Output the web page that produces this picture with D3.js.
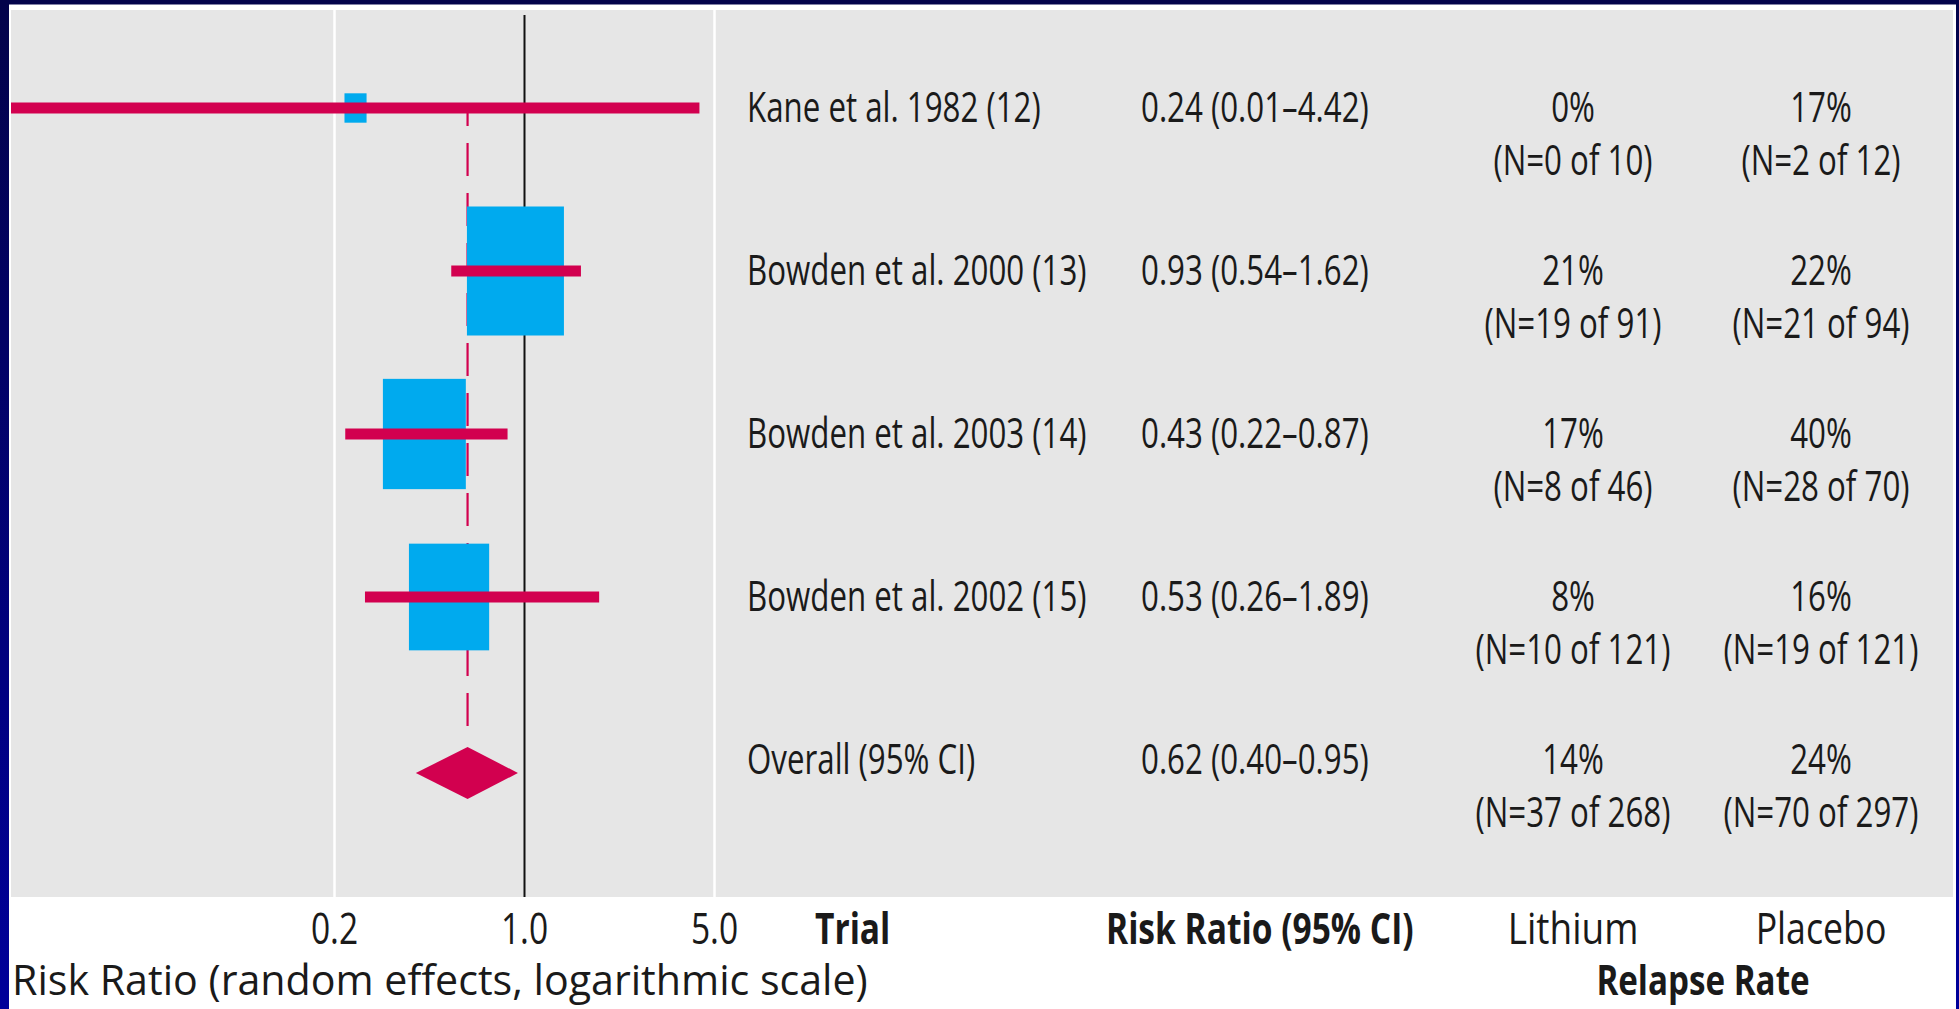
<!DOCTYPE html>
<html>
<head>
<meta charset="utf-8">
<script src="https://cdn.jsdelivr.net/npm/d3@7"></script>
<style>
  html, body { margin: 0; padding: 0; background: #000066; }
  svg { display: block; }
  text { font-family: "Open Sans", "Noto Sans", sans-serif; fill: #1a1a1a; }
</style>
</head>
<body>
<svg id="chart" width="1959" height="1009"></svg>
<script>
// Lithium vs placebo relapse: forest plot of risk ratios (random effects)
const trials       = ["Kane et al. 1982 (12)", "Bowden et al. 2000 (13)", "Bowden et al. 2003 (14)", "Bowden et al. 2002 (15)"];
const riskRatio    = [0.24, 0.93, 0.43, 0.53];
const ciLow        = [0.01, 0.54, 0.22, 0.26];
const ciHigh       = [4.42, 1.62, 0.87, 1.89];
const studyWeight  = [2.1, 40.5, 29.6, 27.7];   // % weight, sets box size
const lithiumEvents = [0, 19, 8, 10];
const lithiumTotal  = [10, 91, 46, 121];
const placeboEvents = [2, 21, 28, 19];
const placeboTotal  = [12, 94, 70, 121];

const overallLabel   = "Overall (95% CI)";
const overallRR      = 0.62;
const overallLow     = 0.40;
const overallHigh    = 0.95;
const overallLithium = [37, 268];
const overallPlacebo = [70, 297];

const tickValues = [0.2, 1, 5];
const columnHeads = ["Trial", "Risk Ratio (95% CI)", "Lithium", "Placebo"];
const groupHead = "Relapse Rate";
const axisTitle = "Risk Ratio (random effects, logarithmic scale)";

// ---- layout ----
const W = 1959, H = 1009;
const panel = { x: 11, y: 10, w: 1942, h: 887 };
const CRIMSON = "#d2004f", BLUE = "#00aaee", GREY = "#e6e6e6";

const svg = d3.select("#chart");
const defs = svg.append("defs");
const grad = defs.append("linearGradient").attr("id", "navy")
  .attr("x1", 0).attr("y1", 0).attr("x2", 0).attr("y2", 1);
grad.append("stop").attr("offset", "0%").attr("stop-color", "#03034a");
grad.append("stop").attr("offset", "100%").attr("stop-color", "#00009a");
defs.append("clipPath").attr("id", "panelClip").append("rect")
  .attr("x", panel.x).attr("y", panel.y).attr("width", panel.w).attr("height", panel.h);

svg.append("rect").attr("width", W).attr("height", H).attr("fill", "url(#navy)");
svg.append("rect").attr("x", 9).attr("y", 4.5).attr("width", 1947).attr("height", H - 4.5).attr("fill", "#ffffff");
svg.append("rect").attr("x", panel.x).attr("y", panel.y).attr("width", panel.w).attr("height", panel.h).attr("fill", GREY);

const x = d3.scaleLog().domain([0.2, 5]).range([334, 714]);
const yRow = d3.scaleLinear().domain([0, 4]).range([108, 760]);
const summaryDrop = 13;
const summaryY = yRow(4) + summaryDrop;
const boxW = d3.scaleSqrt().domain([0, 40.5]).range([0, 97]);
const boxAspect = 1.33;
const diamondHalfH = 26;

const studies = trials.map((t, i) => ({
  i, name: t, rr: riskRatio[i], lo: ciLow[i], hi: ciHigh[i], w: studyWeight[i],
  li: [lithiumEvents[i], lithiumTotal[i]], pl: [placeboEvents[i], placeboTotal[i]]
}));

// ---- vertical guide lines via an axis ----
const grid = svg.append("g").attr("transform", `translate(0,${panel.y})`)
  .call(d3.axisBottom(x).tickValues(tickValues).tickSize(panel.h).tickFormat(""));
grid.select(".domain").remove();
grid.selectAll(".tick line")
  .attr("stroke", d => d === 1 ? "#111" : "#ffffff")
  .attr("stroke-width", d => d === 1 ? 2 : 2.5)
  .attr("y1", d => d === 1 ? 5 : 0);

const plot = svg.append("g").attr("clip-path", "url(#panelClip)");

// dashed line at the pooled estimate
plot.append("line")
  .attr("x1", x(overallRR)).attr("x2", x(overallRR))
  .attr("y1", yRow(0)).attr("y2", summaryY - diamondHalfH - 16)
  .attr("stroke", CRIMSON).attr("stroke-width", 2.2)
  .attr("stroke-dasharray", "33,17").attr("stroke-dashoffset", 15);

// study weight boxes
plot.selectAll("rect.box").data(studies).join("rect").attr("class", "box")
  .attr("x", d => x(d.rr) - boxW(d.w) / 2)
  .attr("y", d => yRow(d.i) - boxW(d.w) * boxAspect / 2)
  .attr("width", d => boxW(d.w))
  .attr("height", d => boxW(d.w) * boxAspect)
  .attr("fill", BLUE);

// confidence intervals
plot.selectAll("line.ci").data(studies).join("line").attr("class", "ci")
  .attr("x1", d => x(d.lo)).attr("x2", d => x(d.hi))
  .attr("y1", d => yRow(d.i)).attr("y2", d => yRow(d.i))
  .attr("stroke", CRIMSON).attr("stroke-width", 11);

// pooled diamond
plot.append("path")
  .attr("d", d3.line()([
    [x(overallLow), summaryY], [x(overallRR), summaryY - diamondHalfH],
    [x(overallHigh), summaryY], [x(overallRR), summaryY + diamondHalfH]
  ]) + "Z")
  .attr("fill", CRIMSON);

// ---- text helpers ----
function label(g, txt, px, py, opts = {}) {
  return g.append("text")
    .attr("transform", `translate(${px},${py}) scale(${opts.sx ?? 0.745},1)`)
    .attr("text-anchor", opts.anchor || "start")
    .attr("font-size", opts.size || 42)
    .attr("font-weight", opts.bold ? 700 : 400)
    .text(txt);
}
const f2 = d3.format(".2f");
const pct = (e, n) => Math.round(100 * e / n) + "%";
const nOf = (e, n) => `(N=${e} of ${n})`;

const col = { trial: 747, rr: 1141, lithium: 1573, placebo: 1821 };
const baseOff = 14, lineGap = 53;

const txt = svg.append("g");
const rows = studies.map(d => ({
  y: yRow(d.i), name: d.name,
  rr: `${f2(d.rr)} (${f2(d.lo)}–${f2(d.hi)})`, li: d.li, pl: d.pl
}));
rows.push({
  y: yRow(4), name: overallLabel,
  rr: `${f2(overallRR)} (${f2(overallLow)}–${f2(overallHigh)})`,
  li: overallLithium, pl: overallPlacebo
});
rows.forEach(r => {
  const b = r.y + baseOff;
  label(txt, r.name, col.trial, b);
  label(txt, r.rr, col.rr, b);
  label(txt, pct(...r.li), col.lithium, b, { anchor: "middle" });
  label(txt, nOf(...r.li), col.lithium, b + lineGap, { anchor: "middle" });
  label(txt, pct(...r.pl), col.placebo, b, { anchor: "middle" });
  label(txt, nOf(...r.pl), col.placebo, b + lineGap, { anchor: "middle" });
});

// ---- axis labels and column headings ----
const axisG = svg.append("g").attr("transform", "translate(0,944)")
  .call(d3.axisBottom(x).tickValues(tickValues).tickSize(0).tickPadding(0).tickFormat(d3.format(".1f")));
axisG.select(".domain").remove();
axisG.selectAll(".tick text")
  .attr("y", 0).attr("dy", 0)
  .attr("font-size", 43).attr("font-family", null).attr("fill", "#1a1a1a")
  .attr("transform", "scale(0.78,1)");

const headY = 944;
label(txt, columnHeads[0], 815, headY, { bold: true, size: 43, sx: 0.78 });
label(txt, columnHeads[1], 1106, headY, { bold: true, size: 43, sx: 0.78 });
label(txt, columnHeads[2], col.lithium, headY, { size: 43, sx: 0.86, anchor: "middle" });
label(txt, columnHeads[3], col.placebo, headY, { size: 43, sx: 0.83, anchor: "middle" });
label(txt, groupHead, 1703, 995, { bold: true, size: 42, sx: 0.79, anchor: "middle" });
label(txt, axisTitle, 12, 995, { size: 42, sx: 0.98 });
</script>
</body>
</html>
